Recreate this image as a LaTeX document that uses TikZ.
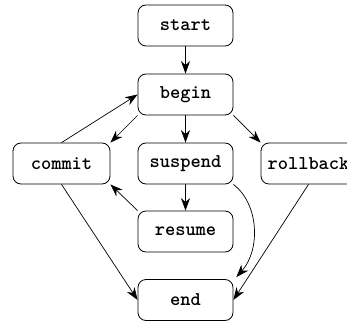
\documentclass[tikz,border=0pt]{standalone}
\usetikzlibrary{arrows.meta}
\begin{document}
\begin{tikzpicture}[x=1pt,y=1pt,
  state/.style={draw, line width=0.8pt, rounded corners=8pt, minimum width=95pt, minimum height=41pt,
    inner sep=0pt, font=\fontsize{19.5}{21}\selectfont\ttfamily\bfseries},
  arr/.style={line width=0.7pt, -{Stealth[length=12.5pt,width=9pt,inset=4pt]}}]
\useasboundingbox (0,0) rectangle (347,327);
\node[state] (start) at (185.5,301.5) {start};
\node[state] (begin) at (185.5,232.5) {begin};
\node[state, minimum width=97pt] (commit) at (61.5,163.5) {commit};
\node[state] (suspend) at (185.5,163.5) {suspend};
\node[state] (rollback) at (308.5,163.5) {rollback};
\node[state] (resume) at (185.5,95.5) {resume};
\node[state] (end) at (185.5,27) {end};
\draw[arr] (start) -- (begin);
\draw[arr] (begin) -- (suspend);
\draw[arr] (suspend) -- (resume);
\draw[arr] (begin.south west) -- (commit.north east);
\draw[arr] (commit.north) -- (begin.west);
\draw[arr] (begin.south east) -- (rollback.north west);
\draw[arr] (resume.north west) -- (commit.south east);
\draw[arr] (commit.south) -- (end.west);
\draw[arr] (rollback.south) -- (end.east);
\draw[arr] (suspend.south east) .. controls +(26,-20) and +(24,27) .. ([shift={(3pt,2pt)}]end.north east);
\end{tikzpicture}
\end{document}
